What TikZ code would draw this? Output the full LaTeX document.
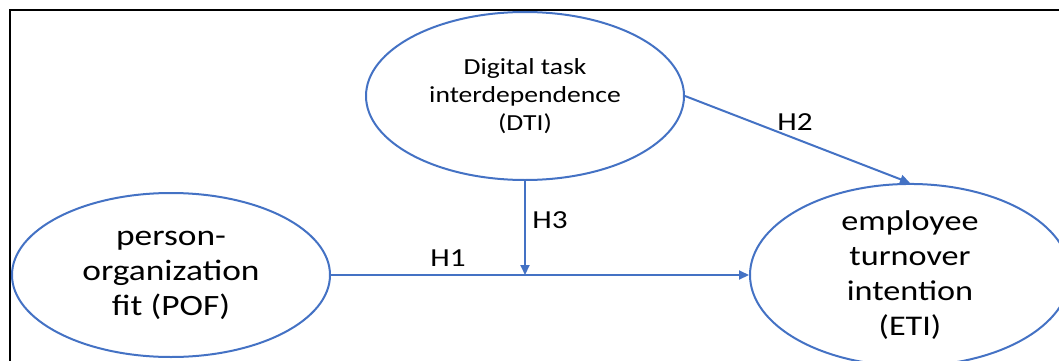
\documentclass[tikz,border=0pt]{standalone}
\usepackage{fontspec}
\setmainfont{Carlito}[FakeStretch=1.2]
\usetikzlibrary{shapes.geometric,arrows.meta}
\definecolor{officeblue}{RGB}{68,114,196}
\tikzset{
  construct/.style={draw=officeblue, line width=2pt, ellipse, inner sep=0pt, align=center},
  link/.style={draw=officeblue, line width=2pt, -{Triangle[length=10pt,width=9pt]}},
  hyp/.style={font=\fontsize{26}{30}\selectfont, inner sep=0pt},
}
\begin{document}
\begin{tikzpicture}[x=1pt, y=-1pt]
  \useasboundingbox (0,0) rectangle (1059,361);
  \begin{scope}
    \clip (0,0) rectangle (1059,361);
    \draw[line width=2.7pt] (10,10) rectangle (1080,380);

    \node[construct, minimum width=318pt, minimum height=168pt,
          font=\fontsize{23}{28}\selectfont] (dti) at (525,96)
      {Digital task\\interdependence\\(DTI)};
    \node[construct, minimum width=318pt, minimum height=164pt,
          font=\fontsize{29.5}{35}\selectfont] (pof) at (171,275)
      {person-\\organization\\fit (POF)};
    \node[construct, minimum width=320pt, minimum height=166pt,
          font=\fontsize{28.5}{35}\selectfont] (eti) at (910,275)
      {employee\\turnover\\intention\\(ETI)};

    \coordinate (meet) at (dti.south |- pof.east);
    \draw[link] (pof.east) -- (eti.west);
    \draw[link] (dti.south) -- (meet);
    \draw[link] (dti.east) -- (eti.north);

    \node[hyp] (h1) at (448,258) {H1};
    \node[hyp] (h3) at (550,220) {H3};
    \node[hyp] (h2) at (795,122) {H2};
  \end{scope}
\end{tikzpicture}
\end{document}
